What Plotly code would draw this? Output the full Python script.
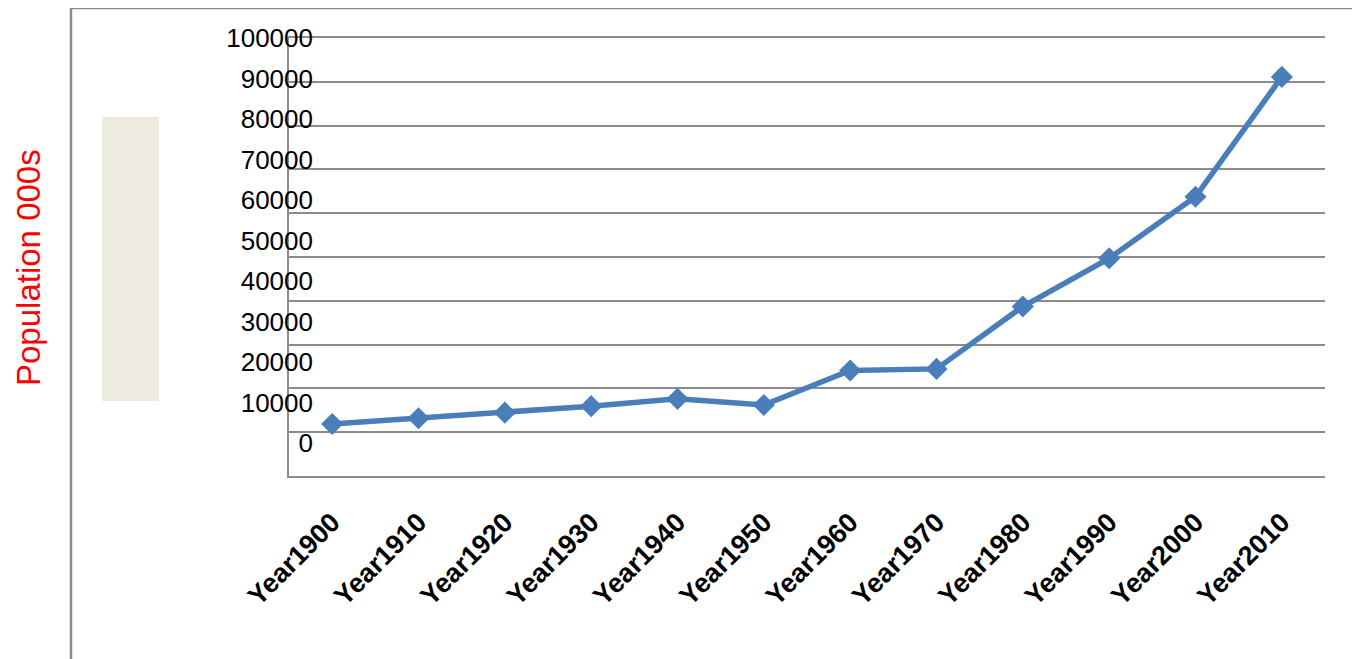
import plotly.graph_objects as go

categories = ["Year1900", "Year1910", "Year1920", "Year1930", "Year1940", "Year1950",
              "Year1960", "Year1970", "Year1980", "Year1990", "Year2000", "Year2010"]
population = [4700, 6100, 7500, 9100, 10900, 9400, 17900, 18300, 33700, 45600, 60800, 90400]
tick_values = [0, 10000, 20000, 30000, 40000, 50000, 60000, 70000, 80000, 90000, 100000]
tick_labels = [str(v) for v in tick_values]

# page has an 8px body margin; work in page pixels and convert
OFF = 8
W, H = 1360 - OFF, 659 - OFF
PL, PR, PT, PB = 289, 1325, 38, 476  # plot area in page pixels
L, R, T, B = PL - OFF, (W + OFF) - PR, PT - OFF, (H + OFF) - PB
pw, ph = PR - PL, PB - PT

def px_x(x):
    return (x - PL) / pw

def px_y(y):
    return (PB - y) / ph

GRID = "#8c8c8c"
BLUE = "#4A7EBB"

fig = go.Figure()
# invisible anchor trace so the grid axis is drawn
fig.add_trace(go.Scatter(
    x=[categories[0]], y=[0], xaxis="x", yaxis="y", mode="markers",
    marker=dict(opacity=0), hoverinfo="skip", showlegend=False,
))
fig.add_trace(go.Scatter(
    x=categories, y=population, xaxis="x", yaxis="y2",
    mode="lines+markers",
    line=dict(color=BLUE, width=5.5),
    marker=dict(symbol="diamond", size=17, color=BLUE),
    showlegend=False, cliponaxis=False,
))

fig.update_layout(
    width=W, height=H,
    margin=dict(l=L, r=R, t=T, b=B),
    paper_bgcolor="white", plot_bgcolor="white",
    font=dict(family="Liberation Sans", color="black"),
    xaxis=dict(
        type="category", showgrid=False, showline=True, linecolor=GRID, linewidth=1.5,
        mirror=True,
        tickangle=-45, ticks="", ticklabelstandoff=18,
        tickfont=dict(family="Liberation Sans", size=27, weight="bold", color="black"),
        range=[-0.5, 11.5], fixedrange=True, anchor="y",
    ),
    yaxis=dict(
        anchor="x",
        range=[0, 100000], dtick=10000, showgrid=True, gridcolor=GRID, gridwidth=1.5,
        showticklabels=False, showline=True, linecolor=GRID, linewidth=1.5,
        zeroline=False, ticks="",
    ),
    yaxis2=dict(
        overlaying="y", anchor="free", position=px_x(313), side="left",
        range=[-(476 - 443) * 100000 / 405, 100000],
        tickvals=tick_values, ticktext=tick_labels,
        showgrid=False, showline=False, zeroline=False, ticks="",
        tickfont=dict(family="Liberation Sans", size=26, color="black"),
    ),
    shapes=[
        dict(type="rect", xref="paper", yref="paper",
             x0=px_x(71), x1=px_x(1356), y0=px_y(8), y1=px_y(700),
             line=dict(color="#8a8a8a", width=2.5), fillcolor="rgba(0,0,0,0)", layer="below"),
        dict(type="rect", xref="paper", yref="paper",
             x0=px_x(102), x1=px_x(159), y0=px_y(401), y1=px_y(117),
             line=dict(width=0), fillcolor="#EDEBE0", layer="below"),
    ],
    annotations=[
        dict(text="Population 000s", xref="paper", yref="paper",
             x=px_x(28), y=px_y(268), showarrow=False, textangle=-90,
             font=dict(family="Liberation Sans", size=33, color="red"),
             xanchor="center", yanchor="middle"),
    ],
)

fig.write_html("out.html")
